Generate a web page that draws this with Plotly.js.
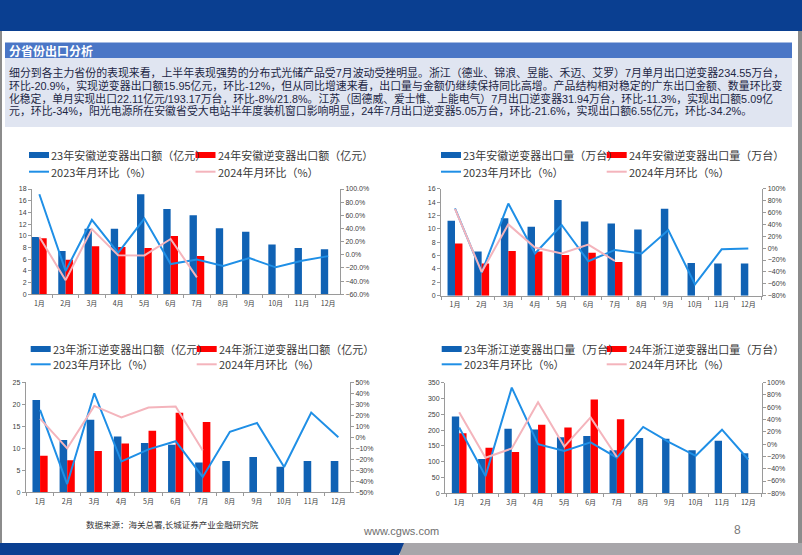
<!DOCTYPE html>
<html><head><meta charset="utf-8">
<script src="https://cdn.plot.ly/plotly-3.0.1.min.js"></script>
<style>html,body{margin:0;padding:0;background:#fff;}#chart{width:802px;height:555px;}</style>
</head><body><div id="chart"></div>
<script>
// ---------- data ----------
const months = ['1月','2月','3月','4月','5月','6月','7月','8月','9月','10月','11月','12月'];

// 安徽 出口额（亿元）
const ahValue23 = [9.8, 7.4, 11.2, 11.2, 17.1, 14.6, 13.5, 11.3, 10.7, 8.5, 7.9, 7.7];
const ahValue24 = [9.6, 5.9, 8.2, 8.1, 7.9, 9.95, 6.55];
const ahValueMom23 = [92, -24.5, 53, 3, 55, -14, -7, -17, -5, -19, -9, -2];
const ahValueMom24 = [27, -38.5, 39, -0.5, -1, 24, -34.2];

// 安徽 出口量（万台）
const ahQty23 = [11.2, 6.6, 11.6, 10.3, 14.3, 11.1, 10.8, 9.9, 13.0, 4.9, 4.8, 4.8];
const ahQty24 = [7.8, 4.8, 6.7, 6.6, 6.1, 6.44, 5.05];
const ahQtyMom23 = [67, -41, 75, -9, 39, -22, -3, -9, 30.5, -61, -2, -0.5];
const ahQtyMom24 = [66, -40, 40, 1, -9, 6, -21.6];

// 浙江 出口额（亿元）
const zjValue23 = [21.0, 11.9, 16.5, 12.7, 11.2, 10.8, 6.8, 7.1, 8.0, 5.8, 7.1, 7.1];
const zjValue24 = [8.3, 7.3, 9.4, 11.1, 14.0, 18.1, 15.95];
const zjValueMom23 = [25, -42.5, 40, -22, -11, -3.6, -36, 5, 13, -27, 22.5, 0];
const zjValueMom24 = [17, -10, 28.5, 18, 27, 28, -12];

// 浙江 出口量（万台）
const zjQty23 = [243, 108.6, 204.5, 202, 177, 181, 136, 175, 173, 136, 166, 126.5];
const zjQty24 = [190, 144, 130.5, 217, 208.5, 297, 234.55];
const zjQtyMom23 = [27, -52, 92, 0, -11, 3, -22, 28, 3, -19, 23.5, -25];
const zjQtyMom24 = [52, -22, -7, 68, -4, 43.5, -20.9];

const legendNames = [
  ['23年安徽逆变器出口额（亿元）','24年安徽逆变器出口额（亿元）','2023年月环比（%）','2024年月环比（%）'],
  ['23年安徽逆变器出口量（万台）','24年安徽逆变器出口量（万台）','2023年月环比（%）','2024年月环比（%）'],
  ['23年浙江逆变器出口额（亿元）','24年浙江逆变器出口额（亿元）','2023年月环比（%）','2024年月环比（%）'],
  ['23年浙江逆变器出口量（万台）','24年浙江逆变器出口量（万台）','2023年月环比（%）','2024年月环比（%）']
];

const paragraphLines = [
  '细分到各主力省份的表现来看，上半年表现强势的分布式光储产品受7月波动受挫明显。浙江（德业、锦浪、昱能、禾迈、艾罗）7月单月出口逆变器234.55万台，',
  '环比-20.9%，实现逆变器出口额15.95亿元，环比-12%，但从同比增速来看，出口量与金额仍继续保持同比高增。产品结构相对稳定的广东出口金额、数量环比变',
  '化稳定，单月实现出口22.11亿元/193.17万台，环比-8%/21.8%。江苏（固德威、爱士惟、上能电气）7月出口逆变器31.94万台，环比-11.3%，实现出口额5.09亿',
  '元，环比-34%，阳光电源所在安徽省受大电站半年度装机窗口影响明显，24年7月出口逆变器5.05万台，环比-21.6%，实现出口额6.55亿元，环比-34.2%。'
];
const sectionTitle = '分省份出口分析';
const sourceText = '数据来源：海关总署,长城证券产业金融研究院';
const siteText = 'www.cgws.com';
const pageText = '8';

// ---------- layout helpers ----------
const W = 802, H = 555;
const px = x => x / W, py = y => 1 - y / H;
const BLUE = '#1062B4', RED = '#FF0000', LBLUE = '#1F8FE6', PINK = '#F4B4BC';
const CJK = '"Noto Sans CJK SC", "Noto Sans", sans-serif';
const NUM = '"Liberation Sans", "Noto Sans CJK SC", sans-serif';

const charts = [
  {b23: ahValue23, b24: ahValue24, m23: ahValueMom23, m24: ahValueMom24, names: legendNames[0],
   box: {l: 32, r: 340, t: 189, b: 294.3}, xr: [-0.28, 11.45], yl: [0, 18, 2], yr: [-60, 100, 20], rfmt: '.1f',
   leg: {c1: 29, c2: 195.5, r1: 155, r2: 171.7}},
  {b23: ahQty23, b24: ahQty24, m23: ahQtyMom23, m24: ahQtyMom24, names: legendNames[1],
   box: {l: 441, r: 762.3, t: 188.7, b: 295.7}, xr: [-0.525, 11.525], yl: [0, 16, 2], yr: [-80, 100, 20], rfmt: 'd',
   leg: {c1: 441, c2: 606.7, r1: 155, r2: 171.7}},
  {b23: zjValue23, b24: zjValue24, m23: zjValueMom23, m24: zjValueMom24, names: legendNames[2],
   box: {l: 25.7, r: 350, t: 382.3, b: 492.3}, xr: [-0.53, 11.43], yl: [0, 25, 5], yr: [-50, 50, 10], rfmt: 'd',
   leg: {c1: 30.7, c2: 196.7, r1: 349, r2: 364.3}},
  {b23: zjQty23, b24: zjQty24, m23: zjQtyMom23, m24: zjQtyMom24, names: legendNames[3],
   box: {l: 445, r: 761.7, t: 382.7, b: 493.3}, xr: [-0.54, 11.51], yl: [0, 350, 50], yr: [-80, 100, 20], rfmt: 'd',
   leg: {c1: 441.7, c2: 606.7, r1: 349, r2: 364.3}}
];

const traces = [];
const layout = {
  width: W, height: H, margin: {l: 0, r: 0, t: 0, b: 0, pad: 0},
  paper_bgcolor: '#ffffff', plot_bgcolor: 'rgba(0,0,0,0)',
  showlegend: false, barmode: 'group', bargap: 0.44, bargroupgap: 0,
  font: {family: NUM, size: 7, color: '#404040'},
  shapes: [], annotations: []
};

const axisCommon = {
  showline: true, linecolor: '#9a9a9a', linewidth: 1, ticks: 'outside', ticklen: 3,
  tickcolor: '#9a9a9a', tickwidth: 1, showgrid: false, zeroline: false, fixedrange: true
};

charts.forEach((c, i) => {
  const n = i + 1;
  const xs = n === 1 ? '' : String(n);
  const ys = n === 1 ? '' : String(n);
  const yr = String(n + 4);
  layout['xaxis' + xs] = Object.assign({}, axisCommon, {
    domain: [px(c.box.l), px(c.box.r)], anchor: 'y' + ys, type: 'category',
    range: c.xr, tickson: 'boundaries', ticklabelstandoff: 2,
    tickfont: {family: CJK, size: 7, color: '#404040'}
  });
  layout['yaxis' + ys] = Object.assign({}, axisCommon, {
    domain: [py(c.box.b), py(c.box.t)], anchor: 'x' + xs,
    range: [c.yl[0], c.yl[1]], dtick: c.yl[2], tick0: 0,
    tickfont: {family: NUM, size: 7, color: '#404040'}
  });
  layout['yaxis' + yr] = Object.assign({}, axisCommon, {
    overlaying: 'y' + ys, anchor: 'x' + xs, side: 'right',
    range: [c.yr[0], c.yr[1]], dtick: c.yr[2], tick0: 0,
    tickformat: c.rfmt, ticksuffix: '%',
    tickfont: {family: NUM, size: 7, color: '#404040'}
  });

  traces.push({type: 'bar', name: c.names[0], x: months, y: c.b23,
    xaxis: 'x' + xs, yaxis: 'y' + ys, marker: {color: BLUE}});
  traces.push({type: 'bar', name: c.names[1], x: months.slice(0, c.b24.length), y: c.b24,
    xaxis: 'x' + xs, yaxis: 'y' + ys, marker: {color: RED}});
  traces.push({type: 'scatter', mode: 'lines', name: c.names[2], x: months, y: c.m23,
    xaxis: 'x' + xs, yaxis: 'y' + yr, line: {color: LBLUE, width: 2}});
  traces.push({type: 'scatter', mode: 'lines', name: c.names[3], x: months.slice(0, c.m24.length), y: c.m24,
    xaxis: 'x' + xs, yaxis: 'y' + yr, line: {color: PINK, width: 2}});

  // legend (drawn as swatches + text)
  const L = c.leg, sw = 20, sh = 6;
  const rect = (x, y, col) => ({type: 'rect', xref: 'paper', yref: 'paper',
    x0: px(x), x1: px(x + sw), y0: py(y + sh / 2), y1: py(y - sh / 2), fillcolor: col, line: {width: 0}});
  const seg = (x, y, col) => ({type: 'line', xref: 'paper', yref: 'paper',
    x0: px(x), x1: px(x + sw), y0: py(y), y1: py(y), line: {color: col, width: 2}});
  layout.shapes.push(rect(L.c1, L.r1, BLUE), rect(L.c2, L.r1, RED), seg(L.c1, L.r2, LBLUE), seg(L.c2, L.r2, PINK));
  const txt = (x, y, t) => ({xref: 'paper', yref: 'paper', x: px(x), y: py(y), xanchor: 'left', yanchor: 'middle',
    text: t, showarrow: false, font: {family: CJK, size: 11, color: '#383838'}, borderpad: 0});
  layout.annotations.push(txt(L.c1 + sw + 1, L.r1, c.names[0]), txt(L.c2 + sw + 1, L.r1, c.names[1]),
    txt(L.c1 + sw + 1, L.r2, c.names[2]), txt(L.c2 + sw + 1, L.r2, c.names[3]));
});

// ---------- slide decoration ----------
const box = (x0, y0, x1, y1, col, layer) => ({type: 'rect', xref: 'paper', yref: 'paper', layer: layer || 'below',
  x0: px(x0), x1: px(x1), y0: py(y1), y1: py(y0), fillcolor: col, line: {width: 0}});
layout.shapes.push(
  box(0, 0, 802, 31, '#0A3F91'),
  box(0, 31, 2, 545, '#8C8C8C'),
  box(798, 31, 802, 545, '#8C8C8C'),
  box(5, 42.5, 792, 58, '#4A76C6'),
  box(5, 58, 792, 127, '#E0E5F1'),
  box(400, 543, 802, 555, '#A8A6AA'),
  {type: 'path', xref: 'paper', yref: 'paper', layer: 'below', fillcolor: '#0A3F91', line: {width: 0},
   path: `M ${px(0)} ${py(543)} L ${px(404)} ${py(543)} L ${px(399)} ${py(555)} L ${px(0)} ${py(555)} Z`}
);

const ann = (x, y, t, size, col, fam, anchor, yanchor) => ({xref: 'paper', yref: 'paper', x: px(x), y: py(y),
  xanchor: anchor || 'left', yanchor: yanchor || 'middle', text: t, showarrow: false, borderpad: 0,
  align: 'left', font: {family: fam || CJK, size: size, color: col}});

layout.annotations.push(ann(8, 50.3, '<b>' + sectionTitle + '</b>', 12, '#FFFFFF'));
// paragraph: one text per line, Latin-primary font keeps each line box compact
const lineY = [72.7, 85.4, 98.2, 111];
const lineSize = [10.9, 10.9, 10.8, 10.9];
paragraphLines.forEach((t, k) => layout.annotations.push(ann(8, lineY[k], t, lineSize[k], '#1C2644', NUM)));
layout.annotations.push(ann(85, 524.3, sourceText, 8.5, '#333333'));
layout.annotations.push(ann(401, 531, siteText, 11, '#6E6E6E', NUM, 'center'));
layout.annotations.push(ann(737, 530, pageText, 12, '#7A7A7A', NUM, 'center'));

Plotly.newPlot('chart', traces, layout, {staticPlot: true, displayModeBar: false});
</script>
</body></html>
